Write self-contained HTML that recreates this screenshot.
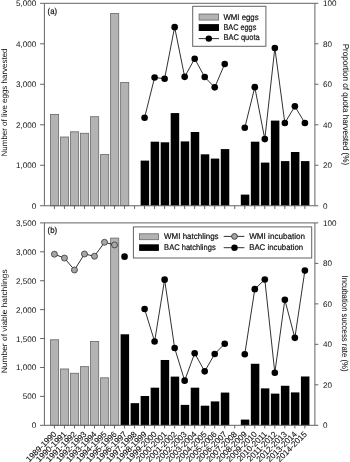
<!DOCTYPE html>
<html lang="en">
<head>
<meta charset="utf-8">
<title>Harvest figure</title>
<style>
html,body{margin:0;padding:0;background:#fff;}
body{width:350px;height:462px;overflow:hidden;}
svg{display:block;will-change:transform;}
</style>
</head>
<body>
<svg width="350" height="462" viewBox="0 0 350 462">
<rect width="350" height="462" fill="#fff"/>
<g font-family='"Liberation Sans", Arial, sans-serif' fill="#111" text-rendering="geometricPrecision">
<rect x="50.52" y="114.41" width="8.10" height="91.34" fill="#b3b3b3" stroke="#686868" stroke-width="0.8"/>
<rect x="60.54" y="137.01" width="8.10" height="68.74" fill="#b3b3b3" stroke="#686868" stroke-width="0.8"/>
<rect x="70.56" y="131.79" width="8.10" height="73.96" fill="#b3b3b3" stroke="#686868" stroke-width="0.8"/>
<rect x="80.57" y="133.29" width="8.10" height="72.46" fill="#b3b3b3" stroke="#686868" stroke-width="0.8"/>
<rect x="90.59" y="116.71" width="8.10" height="89.04" fill="#b3b3b3" stroke="#686868" stroke-width="0.8"/>
<rect x="100.61" y="154.39" width="8.10" height="51.36" fill="#b3b3b3" stroke="#686868" stroke-width="0.8"/>
<rect x="110.63" y="13.52" width="8.10" height="192.23" fill="#b3b3b3" stroke="#686868" stroke-width="0.8"/>
<rect x="120.65" y="82.40" width="8.10" height="123.35" fill="#b3b3b3" stroke="#686868" stroke-width="0.8"/>
<rect x="140.64" y="160.61" width="8.50" height="45.14" fill="#000"/>
<rect x="150.65" y="141.70" width="8.50" height="64.05" fill="#000"/>
<rect x="160.67" y="142.30" width="8.50" height="63.45" fill="#000"/>
<rect x="170.69" y="113.08" width="8.50" height="92.67" fill="#000"/>
<rect x="180.71" y="141.42" width="8.50" height="64.33" fill="#000"/>
<rect x="190.73" y="132.00" width="8.50" height="73.75" fill="#000"/>
<rect x="200.75" y="154.31" width="8.50" height="51.44" fill="#000"/>
<rect x="210.76" y="158.59" width="8.50" height="47.16" fill="#000"/>
<rect x="220.78" y="149.09" width="8.50" height="56.66" fill="#000"/>
<rect x="240.82" y="194.61" width="8.50" height="11.14" fill="#000"/>
<rect x="250.84" y="141.70" width="8.50" height="64.05" fill="#000"/>
<rect x="260.86" y="162.60" width="8.50" height="43.15" fill="#000"/>
<rect x="270.88" y="120.60" width="8.50" height="85.15" fill="#000"/>
<rect x="280.89" y="161.10" width="8.50" height="44.65" fill="#000"/>
<rect x="290.91" y="152.01" width="8.50" height="53.74" fill="#000"/>
<rect x="300.93" y="161.10" width="8.50" height="44.65" fill="#000"/>
<polyline points="144.59,117.69 154.60,77.47 164.62,78.68 174.64,27.15 184.66,76.86 194.68,58.68 204.70,77.07 214.71,87.37 224.73,63.93" fill="none" stroke="#1a1a1a" stroke-width="0.9"/>
<circle cx="144.59" cy="117.69" r="3.30" fill="#000"/>
<circle cx="154.60" cy="77.47" r="3.30" fill="#000"/>
<circle cx="164.62" cy="78.68" r="3.30" fill="#000"/>
<circle cx="174.64" cy="27.15" r="3.30" fill="#000"/>
<circle cx="184.66" cy="76.86" r="3.30" fill="#000"/>
<circle cx="194.68" cy="58.68" r="3.30" fill="#000"/>
<circle cx="204.70" cy="77.07" r="3.30" fill="#000"/>
<circle cx="214.71" cy="87.37" r="3.30" fill="#000"/>
<circle cx="224.73" cy="63.93" r="3.30" fill="#000"/>
<polyline points="244.77,127.79 254.79,87.17 264.81,139.11 274.83,47.96 284.84,122.94 294.86,106.37 304.88,122.94" fill="none" stroke="#1a1a1a" stroke-width="0.9"/>
<circle cx="244.77" cy="127.79" r="3.30" fill="#000"/>
<circle cx="254.79" cy="87.17" r="3.30" fill="#000"/>
<circle cx="264.81" cy="139.11" r="3.30" fill="#000"/>
<circle cx="274.83" cy="47.96" r="3.30" fill="#000"/>
<circle cx="284.84" cy="122.94" r="3.30" fill="#000"/>
<circle cx="294.86" cy="106.37" r="3.30" fill="#000"/>
<circle cx="304.88" cy="122.94" r="3.30" fill="#000"/>
<path d="M44.40 3.30 H314.90 V205.75 H44.40 Z" fill="none" stroke="#636363" stroke-width="1"/>
<text x="36.30" y="208.75" font-size="8.10" text-anchor="end" >0</text>
<text x="36.30" y="168.26" font-size="8.10" text-anchor="end" >1,000</text>
<text x="36.30" y="127.77" font-size="8.10" text-anchor="end" >2,000</text>
<text x="36.30" y="87.28" font-size="8.10" text-anchor="end" >3,000</text>
<text x="36.30" y="46.79" font-size="8.10" text-anchor="end" >4,000</text>
<text x="36.30" y="6.30" font-size="8.10" text-anchor="end" >5,000</text>
<text x="322.90" y="208.75" font-size="8.10" text-anchor="start" >0</text>
<text x="322.90" y="168.26" font-size="8.10" text-anchor="start" >20</text>
<text x="322.90" y="127.77" font-size="8.10" text-anchor="start" >40</text>
<text x="322.90" y="87.28" font-size="8.10" text-anchor="start" >60</text>
<text x="322.90" y="46.79" font-size="8.10" text-anchor="start" >80</text>
<text x="322.90" y="6.30" font-size="8.10" text-anchor="start" >100</text>
<path d="M40.10 205.75H44.40M40.10 165.26H44.40M40.10 124.77H44.40M40.10 84.28H44.40M40.10 43.79H44.40M40.10 3.30H44.40M314.90 205.75H318.30M314.90 165.26H318.30M314.90 124.77H318.30M314.90 84.28H318.30M314.90 43.79H318.30M314.90 3.30H318.30M54.42 205.75V208.95M64.44 205.75V208.95M74.46 205.75V208.95M84.47 205.75V208.95M94.49 205.75V208.95M104.51 205.75V208.95M114.53 205.75V208.95M124.55 205.75V208.95M134.57 205.75V208.95M144.59 205.75V208.95M154.60 205.75V208.95M164.62 205.75V208.95M174.64 205.75V208.95M184.66 205.75V208.95M194.68 205.75V208.95M204.70 205.75V208.95M214.71 205.75V208.95M224.73 205.75V208.95M234.75 205.75V208.95M244.77 205.75V208.95M254.79 205.75V208.95M264.81 205.75V208.95M274.83 205.75V208.95M284.84 205.75V208.95M294.86 205.75V208.95M304.88 205.75V208.95" fill="none" stroke="#636363" stroke-width="1"/>
<text x="47.60" y="13.70" font-size="8.60" text-anchor="start" textLength="9.4" lengthAdjust="spacingAndGlyphs" stroke="#111" stroke-width="0.2">(a)</text>
<rect x="192.7" y="6.3" width="73.2" height="40" fill="#fff" stroke="#636363" stroke-width="1"/>
<rect x="199.1" y="14.0" width="19.5" height="6.1" fill="#b3b3b3" stroke="#686868" stroke-width="0.8" stroke-opacity="1"/>
<rect x="198.7" y="24.1" width="20.3" height="6.9" fill="#000"/>
<path d="M198.7 38.6H219" stroke="#1a1a1a" stroke-width="0.9"/><circle cx="208.8" cy="38.6" r="3.2" fill="#000"/>
<text x="223.40" y="19.60" font-size="8.20" text-anchor="start" textLength="35.2" lengthAdjust="spacingAndGlyphs" stroke="#111" stroke-width="0.2">WMI eggs</text>
<text x="223.40" y="29.90" font-size="8.20" text-anchor="start" textLength="32.9" lengthAdjust="spacingAndGlyphs" stroke="#111" stroke-width="0.2">BAC eggs</text>
<text x="223.40" y="40.20" font-size="8.20" text-anchor="start" textLength="36.3" lengthAdjust="spacingAndGlyphs" stroke="#111" stroke-width="0.2">BAC quota</text>
<text transform="translate(7.4 156.4) rotate(-90)" font-size="8" textLength="107.9" lengthAdjust="spacingAndGlyphs">Number of live eggs harvested</text>
<text transform="translate(343.2 43.7) rotate(90)" font-size="8.5" stroke="#111" stroke-width="0.06" textLength="121.4" lengthAdjust="spacingAndGlyphs">Proportion of quota harvested (%)</text>
<rect x="50.52" y="339.77" width="8.10" height="85.53" fill="#b3b3b3" stroke="#686868" stroke-width="0.8"/>
<rect x="60.54" y="368.97" width="8.10" height="56.33" fill="#b3b3b3" stroke="#686868" stroke-width="0.8"/>
<rect x="70.56" y="373.25" width="8.10" height="52.05" fill="#b3b3b3" stroke="#686868" stroke-width="0.8"/>
<rect x="80.57" y="366.67" width="8.10" height="58.63" fill="#b3b3b3" stroke="#686868" stroke-width="0.8"/>
<rect x="90.59" y="341.50" width="8.10" height="83.80" fill="#b3b3b3" stroke="#686868" stroke-width="0.8"/>
<rect x="100.61" y="377.81" width="8.10" height="47.49" fill="#b3b3b3" stroke="#686868" stroke-width="0.8"/>
<rect x="110.63" y="238.08" width="8.10" height="187.22" fill="#b3b3b3" stroke="#686868" stroke-width="0.8"/>
<rect x="120.60" y="334.29" width="8.50" height="91.01" fill="#000"/>
<rect x="130.62" y="403.15" width="8.50" height="22.15" fill="#000"/>
<rect x="140.64" y="395.99" width="8.50" height="29.31" fill="#000"/>
<rect x="150.65" y="387.68" width="8.50" height="37.62" fill="#000"/>
<rect x="160.67" y="359.98" width="8.50" height="65.32" fill="#000"/>
<rect x="170.69" y="376.60" width="8.50" height="48.70" fill="#000"/>
<rect x="180.71" y="404.88" width="8.50" height="20.42" fill="#000"/>
<rect x="190.73" y="387.68" width="8.50" height="37.62" fill="#000"/>
<rect x="200.75" y="405.69" width="8.50" height="19.61" fill="#000"/>
<rect x="210.76" y="401.41" width="8.50" height="23.89" fill="#000"/>
<rect x="220.78" y="392.58" width="8.50" height="32.72" fill="#000"/>
<rect x="240.82" y="419.59" width="8.50" height="5.71" fill="#000"/>
<rect x="250.84" y="363.78" width="8.50" height="61.52" fill="#000"/>
<rect x="260.86" y="388.37" width="8.50" height="36.93" fill="#000"/>
<rect x="270.88" y="393.62" width="8.50" height="31.68" fill="#000"/>
<rect x="280.89" y="385.77" width="8.50" height="39.53" fill="#000"/>
<rect x="290.91" y="392.41" width="8.50" height="32.89" fill="#000"/>
<rect x="300.93" y="376.48" width="8.50" height="48.82" fill="#000"/>
<polyline points="54.42,254.21 64.44,258.05 74.46,269.97 84.47,254.01 94.49,256.23 104.51,242.30 114.53,244.92" fill="none" stroke="#1a1a1a" stroke-width="0.9"/>
<circle cx="54.42" cy="254.21" r="3.00" fill="#a6a6a6" stroke="#333" stroke-width="0.8"/>
<circle cx="64.44" cy="258.05" r="3.00" fill="#a6a6a6" stroke="#333" stroke-width="0.8"/>
<circle cx="74.46" cy="269.97" r="3.00" fill="#a6a6a6" stroke="#333" stroke-width="0.8"/>
<circle cx="84.47" cy="254.01" r="3.00" fill="#a6a6a6" stroke="#333" stroke-width="0.8"/>
<circle cx="94.49" cy="256.23" r="3.00" fill="#a6a6a6" stroke="#333" stroke-width="0.8"/>
<circle cx="104.51" cy="242.30" r="3.00" fill="#a6a6a6" stroke="#333" stroke-width="0.8"/>
<circle cx="114.53" cy="244.92" r="3.00" fill="#a6a6a6" stroke="#333" stroke-width="0.8"/>
<circle cx="124.55" cy="256.64" r="3.30" fill="#000"/>
<polyline points="144.59,308.96 154.60,341.48 164.62,279.67 174.64,347.94 184.66,380.67 194.68,353.19 204.70,371.37 214.71,354.00 224.73,343.70" fill="none" stroke="#1a1a1a" stroke-width="0.9"/>
<circle cx="144.59" cy="308.96" r="3.30" fill="#000"/>
<circle cx="154.60" cy="341.48" r="3.30" fill="#000"/>
<circle cx="164.62" cy="279.67" r="3.30" fill="#000"/>
<circle cx="174.64" cy="347.94" r="3.30" fill="#000"/>
<circle cx="184.66" cy="380.67" r="3.30" fill="#000"/>
<circle cx="194.68" cy="353.19" r="3.30" fill="#000"/>
<circle cx="204.70" cy="371.37" r="3.30" fill="#000"/>
<circle cx="214.71" cy="354.00" r="3.30" fill="#000"/>
<circle cx="224.73" cy="343.70" r="3.30" fill="#000"/>
<polyline points="244.77,354.20 254.79,289.16 264.81,279.46 274.83,372.79 284.84,299.87 294.86,337.84 304.88,270.58" fill="none" stroke="#1a1a1a" stroke-width="0.9"/>
<circle cx="244.77" cy="354.20" r="3.30" fill="#000"/>
<circle cx="254.79" cy="289.16" r="3.30" fill="#000"/>
<circle cx="264.81" cy="279.46" r="3.30" fill="#000"/>
<circle cx="274.83" cy="372.79" r="3.30" fill="#000"/>
<circle cx="284.84" cy="299.87" r="3.30" fill="#000"/>
<circle cx="294.86" cy="337.84" r="3.30" fill="#000"/>
<circle cx="304.88" cy="270.58" r="3.30" fill="#000"/>
<path d="M44.40 222.90 H314.90 V425.30 H44.40 Z" fill="none" stroke="#636363" stroke-width="1"/>
<text x="36.30" y="428.30" font-size="8.10" text-anchor="end" >0</text>
<text x="36.30" y="399.39" font-size="8.10" text-anchor="end" >500</text>
<text x="36.30" y="370.47" font-size="8.10" text-anchor="end" >1,000</text>
<text x="36.30" y="341.56" font-size="8.10" text-anchor="end" >1,500</text>
<text x="36.30" y="312.64" font-size="8.10" text-anchor="end" >2,000</text>
<text x="36.30" y="283.73" font-size="8.10" text-anchor="end" >2,500</text>
<text x="36.30" y="254.81" font-size="8.10" text-anchor="end" >3,000</text>
<text x="36.30" y="225.90" font-size="8.10" text-anchor="end" >3,500</text>
<text x="322.90" y="428.30" font-size="8.10" text-anchor="start" >0</text>
<text x="322.90" y="387.82" font-size="8.10" text-anchor="start" >20</text>
<text x="322.90" y="347.34" font-size="8.10" text-anchor="start" >40</text>
<text x="322.90" y="306.86" font-size="8.10" text-anchor="start" >60</text>
<text x="322.90" y="266.38" font-size="8.10" text-anchor="start" >80</text>
<text x="322.90" y="225.90" font-size="8.10" text-anchor="start" >100</text>
<path d="M40.10 425.30H44.40M40.10 396.39H44.40M40.10 367.47H44.40M40.10 338.56H44.40M40.10 309.64H44.40M40.10 280.73H44.40M40.10 251.81H44.40M40.10 222.90H44.40M314.90 425.30H318.30M314.90 384.82H318.30M314.90 344.34H318.30M314.90 303.86H318.30M314.90 263.38H318.30M314.90 222.90H318.30M54.42 425.30V428.50M64.44 425.30V428.50M74.46 425.30V428.50M84.47 425.30V428.50M94.49 425.30V428.50M104.51 425.30V428.50M114.53 425.30V428.50M124.55 425.30V428.50M134.57 425.30V428.50M144.59 425.30V428.50M154.60 425.30V428.50M164.62 425.30V428.50M174.64 425.30V428.50M184.66 425.30V428.50M194.68 425.30V428.50M204.70 425.30V428.50M214.71 425.30V428.50M224.73 425.30V428.50M234.75 425.30V428.50M244.77 425.30V428.50M254.79 425.30V428.50M264.81 425.30V428.50M274.83 425.30V428.50M284.84 425.30V428.50M294.86 425.30V428.50M304.88 425.30V428.50" fill="none" stroke="#636363" stroke-width="1"/>
<text x="47.60" y="232.90" font-size="8.60" text-anchor="start" textLength="9.6" lengthAdjust="spacingAndGlyphs" stroke="#111" stroke-width="0.2">(b)</text>
<rect x="133.4" y="226.9" width="178.3" height="31.1" fill="#fff" stroke="#636363" stroke-width="1"/>
<rect x="139.5" y="233.8" width="19.0" height="5.9" fill="#b3b3b3" stroke="#686868" stroke-width="0.8"/>
<rect x="139.1" y="244.3" width="19.8" height="6.6" fill="#000"/>
<text x="164.10" y="239.20" font-size="8.20" text-anchor="start" textLength="54.5" lengthAdjust="spacingAndGlyphs" stroke="#111" stroke-width="0.2">WMI hatchlings</text>
<text x="164.10" y="250.00" font-size="8.20" text-anchor="start" textLength="51.6" lengthAdjust="spacingAndGlyphs" stroke="#111" stroke-width="0.2">BAC hatchlings</text>
<path d="M223.7 236.4H244.4M223.7 247.7H244.4" stroke="#1a1a1a" stroke-width="0.9"/>
<circle cx="234.5" cy="236.4" r="2.9" fill="#a6a6a6" stroke="#333" stroke-width="0.9"/>
<circle cx="234.5" cy="247.7" r="3.2" fill="#000"/>
<text x="249.20" y="239.20" font-size="8.20" text-anchor="start" textLength="55.9" lengthAdjust="spacingAndGlyphs" stroke="#111" stroke-width="0.2">WMI incubation</text>
<text x="249.20" y="250.00" font-size="8.20" text-anchor="start" textLength="53.9" lengthAdjust="spacingAndGlyphs" stroke="#111" stroke-width="0.2">BAC incubation</text>
<text transform="translate(7.4 373.3) rotate(-90)" font-size="8" textLength="103.9" lengthAdjust="spacingAndGlyphs">Number of viable hatchlings</text>
<text transform="translate(342.0 275.6) rotate(90)" font-size="8.5" stroke="#111" stroke-width="0.06" textLength="95.9" lengthAdjust="spacingAndGlyphs">Incubation success rate (%)</text>
<text transform="translate(57.02 434.70) rotate(-45)" font-size="8.20" text-anchor="end" stroke="#111" stroke-width="0.12">1989-1990</text>
<text transform="translate(67.04 434.70) rotate(-45)" font-size="8.20" text-anchor="end" stroke="#111" stroke-width="0.12">1990-1991</text>
<text transform="translate(77.06 434.70) rotate(-45)" font-size="8.20" text-anchor="end" stroke="#111" stroke-width="0.12">1991-1992</text>
<text transform="translate(87.07 434.70) rotate(-45)" font-size="8.20" text-anchor="end" stroke="#111" stroke-width="0.12">1992-1993</text>
<text transform="translate(97.09 434.70) rotate(-45)" font-size="8.20" text-anchor="end" stroke="#111" stroke-width="0.12">1993-1994</text>
<text transform="translate(107.11 434.70) rotate(-45)" font-size="8.20" text-anchor="end" stroke="#111" stroke-width="0.12">1994-1995</text>
<text transform="translate(117.13 434.70) rotate(-45)" font-size="8.20" text-anchor="end" stroke="#111" stroke-width="0.12">1995-1996</text>
<text transform="translate(127.15 434.70) rotate(-45)" font-size="8.20" text-anchor="end" stroke="#111" stroke-width="0.12">1996-1997</text>
<text transform="translate(137.17 434.70) rotate(-45)" font-size="8.20" text-anchor="end" stroke="#111" stroke-width="0.12">1997-1998</text>
<text transform="translate(147.19 434.70) rotate(-45)" font-size="8.20" text-anchor="end" stroke="#111" stroke-width="0.12">1998-1999</text>
<text transform="translate(157.20 434.70) rotate(-45)" font-size="8.20" text-anchor="end" stroke="#111" stroke-width="0.12">1999-2000</text>
<text transform="translate(167.22 434.70) rotate(-45)" font-size="8.20" text-anchor="end" stroke="#111" stroke-width="0.12">2000-2001</text>
<text transform="translate(177.24 434.70) rotate(-45)" font-size="8.20" text-anchor="end" stroke="#111" stroke-width="0.12">2001-2002</text>
<text transform="translate(187.26 434.70) rotate(-45)" font-size="8.20" text-anchor="end" stroke="#111" stroke-width="0.12">2002-2003</text>
<text transform="translate(197.28 434.70) rotate(-45)" font-size="8.20" text-anchor="end" stroke="#111" stroke-width="0.12">2003-2004</text>
<text transform="translate(207.30 434.70) rotate(-45)" font-size="8.20" text-anchor="end" stroke="#111" stroke-width="0.12">2004-2005</text>
<text transform="translate(217.31 434.70) rotate(-45)" font-size="8.20" text-anchor="end" stroke="#111" stroke-width="0.12">2005-2006</text>
<text transform="translate(227.33 434.70) rotate(-45)" font-size="8.20" text-anchor="end" stroke="#111" stroke-width="0.12">2006-2007</text>
<text transform="translate(237.35 434.70) rotate(-45)" font-size="8.20" text-anchor="end" stroke="#111" stroke-width="0.12">2007-2008</text>
<text transform="translate(247.37 434.70) rotate(-45)" font-size="8.20" text-anchor="end" stroke="#111" stroke-width="0.12">2008-2009</text>
<text transform="translate(257.39 434.70) rotate(-45)" font-size="8.20" text-anchor="end" stroke="#111" stroke-width="0.12">2009-2010</text>
<text transform="translate(267.41 434.70) rotate(-45)" font-size="8.20" text-anchor="end" stroke="#111" stroke-width="0.12">2010-2011</text>
<text transform="translate(277.43 434.70) rotate(-45)" font-size="8.20" text-anchor="end" stroke="#111" stroke-width="0.12">2011-2012</text>
<text transform="translate(287.44 434.70) rotate(-45)" font-size="8.20" text-anchor="end" stroke="#111" stroke-width="0.12">2012-2013</text>
<text transform="translate(297.46 434.70) rotate(-45)" font-size="8.20" text-anchor="end" stroke="#111" stroke-width="0.12">2013-2014</text>
<text transform="translate(307.48 434.70) rotate(-45)" font-size="8.20" text-anchor="end" stroke="#111" stroke-width="0.12">2014-2015</text>
</g>
</svg>
</body>
</html>
